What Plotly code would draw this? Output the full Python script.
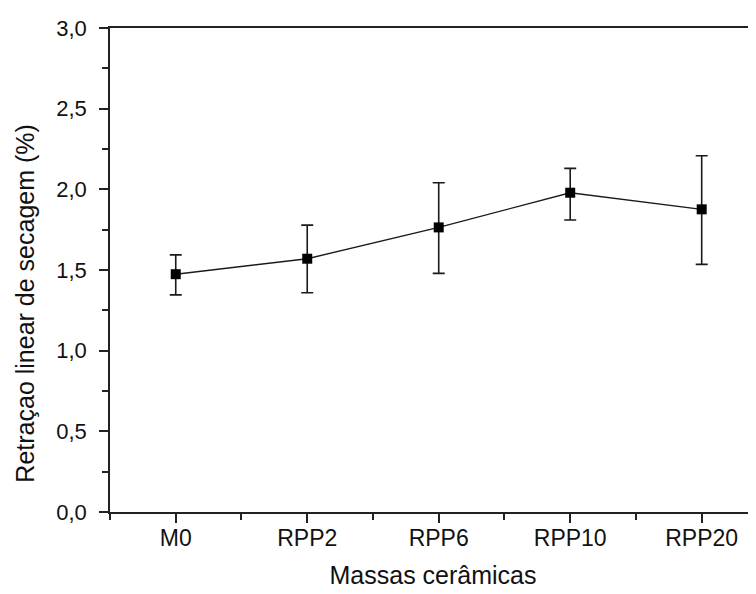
import plotly.graph_objects as go

categories = ["M0", "RPP2", "RPP6", "RPP10", "RPP20"]
retracao = [1.474, 1.570, 1.764, 1.979, 1.876]
err_plus = [0.120, 0.208, 0.277, 0.151, 0.332]
err_minus = [0.128, 0.211, 0.285, 0.169, 0.341]
y_tickvals = [0.0, 0.5, 1.0, 1.5, 2.0, 2.5, 3.0]
y_title = "Retraçao linear de secagem (%)"
x_title = "Massas cerâmicas"

xpos = list(range(len(categories)))
font = "Liberation Sans, Arial, sans-serif"

fig = go.Figure()
fig.add_trace(go.Scatter(
    x=xpos, y=retracao, mode="lines+markers",
    line=dict(color="#1a1a1a", width=1.4),
    marker=dict(symbol="square", size=10, color="black"),
    error_y=dict(type="data", symmetric=False, array=err_plus, arrayminus=err_minus,
                 color="#1a1a1a", thickness=1.6, width=6),
    showlegend=False,
))

# page body has an 8px default margin, so the figure is offset by 8px
fig.update_layout(
    width=748, height=586,
    margin=dict(l=102, r=0, t=20, b=82),
    paper_bgcolor="white", plot_bgcolor="white",
    separators=",.",
    font=dict(family=font, size=22, color="#111"),
)
fig.update_xaxes(
    range=[-0.5, 4.413], tickmode="array", tickvals=xpos, ticktext=categories,
    showline=True, linecolor="#222", linewidth=1.6, mirror=True,
    ticks="outside", ticklen=9, tickwidth=1.6, tickcolor="#222",
    minor=dict(tickmode="array", tickvals=[-0.5, 0.5, 1.5, 2.5, 3.5],
               ticks="outside", ticklen=6, tickwidth=1.6, tickcolor="#222"),
    showgrid=False, zeroline=False,
    tickfont=dict(size=23),
    ticklabelstandoff=-4,
    title=dict(text=x_title, font=dict(size=25), standoff=16),
)
fig.update_yaxes(
    range=[0, 3], tickmode="array", tickvals=y_tickvals, tickformat=".1f",
    showline=True, linecolor="#222", linewidth=1.6, mirror=False,
    ticks="outside", ticklen=9, tickwidth=1.6, tickcolor="#222",
    minor=dict(dtick=0.25, tick0=0, ticks="outside", ticklen=6, tickwidth=1.6, tickcolor="#222"),
    showgrid=False, zeroline=False,
    tickfont=dict(size=22),
    ticklabelstandoff=8,
)
fig.add_annotation(
    text=y_title, textangle=-90, xref="paper", yref="paper",
    x=-0.132, y=0.432, xanchor="center", yanchor="middle",
    showarrow=False, font=dict(size=25),
)

fig.write_html("out.html")
